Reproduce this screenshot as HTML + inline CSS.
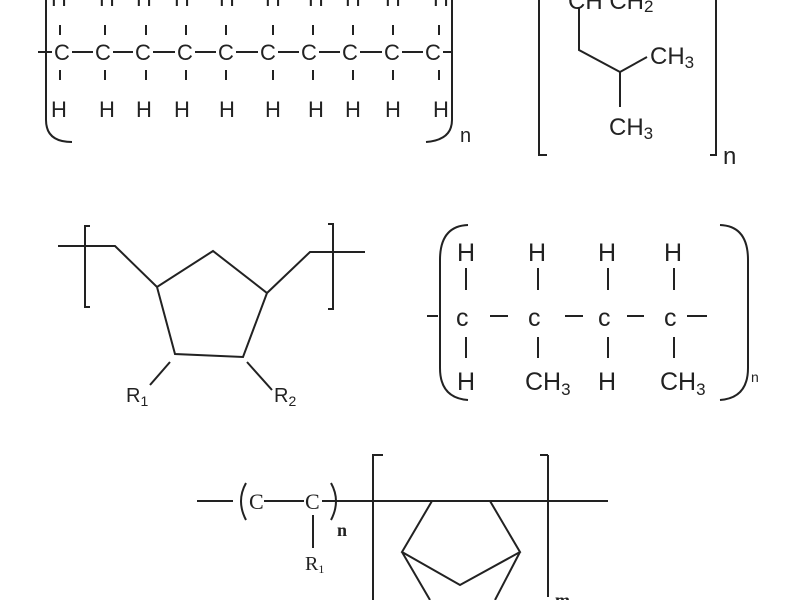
<!DOCTYPE html>
<html><head><style>body{margin:0;background:#fff}svg{display:block}text{font-family:"Liberation Sans",sans-serif;fill:#222}</style></head><body>
<svg width="800" height="600" viewBox="0 0 800 600" stroke="#222" stroke-width="2" fill="none">
<path d="M46 0 V120 Q46 142 72 142" />
<path d="M452 0 V120 Q452 140 426 142" />
<text x="460" y="142" font-size="20" stroke="none">n</text>
<line x1="38" y1="52" x2="452" y2="52"/>
<g font-size="22" text-anchor="middle">
<rect x="52" y="39" width="20" height="26" fill="#fff" stroke="none"/><text x="62" y="60" stroke="none">C</text>
<rect x="93" y="39" width="20" height="26" fill="#fff" stroke="none"/><text x="103" y="60" stroke="none">C</text>
<rect x="133" y="39" width="20" height="26" fill="#fff" stroke="none"/><text x="143" y="60" stroke="none">C</text>
<rect x="175" y="39" width="20" height="26" fill="#fff" stroke="none"/><text x="185" y="60" stroke="none">C</text>
<rect x="216" y="39" width="20" height="26" fill="#fff" stroke="none"/><text x="226" y="60" stroke="none">C</text>
<rect x="258" y="39" width="20" height="26" fill="#fff" stroke="none"/><text x="268" y="60" stroke="none">C</text>
<rect x="299" y="39" width="20" height="26" fill="#fff" stroke="none"/><text x="309" y="60" stroke="none">C</text>
<rect x="340" y="39" width="20" height="26" fill="#fff" stroke="none"/><text x="350" y="60" stroke="none">C</text>
<rect x="382" y="39" width="20" height="26" fill="#fff" stroke="none"/><text x="392" y="60" stroke="none">C</text>
<rect x="423" y="39" width="20" height="26" fill="#fff" stroke="none"/><text x="433" y="60" stroke="none">C</text>
</g>
<path d="M60 25V35M60 70V80M105 25V35M105 70V80M146 25V35M146 70V80M186 25V35M186 70V80M226 25V35M226 70V80M273 25V35M273 70V80M313 25V35M313 70V80M353 25V35M353 70V80M393 25V35M393 70V80M439 25V35M439 70V80"/>
<g font-size="22" text-anchor="middle" stroke="none">
<text x="59" y="117">H</text><text x="107" y="117">H</text><text x="144" y="117">H</text><text x="182" y="117">H</text><text x="227" y="117">H</text><text x="273" y="117">H</text><text x="316" y="117">H</text><text x="353" y="117">H</text><text x="393" y="117">H</text><text x="441" y="117">H</text>
<text x="59" y="6">H</text><text x="107" y="6">H</text><text x="144" y="6">H</text><text x="182" y="6">H</text><text x="227" y="6">H</text><text x="273" y="6">H</text><text x="316" y="6">H</text><text x="353" y="6">H</text><text x="393" y="6">H</text><text x="441" y="6">H</text>
</g>
<path d="M539 0V155H547M716 0V155H710"/>
<text x="723" y="164" font-size="24" stroke="none">n</text>
<text x="568" y="9" font-size="24" stroke="none">CH   CH<tspan font-size="17" dy="3">2</tspan></text>
<path d="M579 8V50L620 72L647 57M620 72V107"/>
<text x="650" y="64" font-size="24" stroke="none">CH<tspan font-size="17" dy="4">3</tspan></text>
<text x="609" y="135" font-size="24" stroke="none">CH<tspan font-size="17" dy="4">3</tspan></text>
<path d="M90 226H85V307H90M328 224H333V309H328"/>
<path d="M58 246H115L157 287L213 251L267 293L310 252H365M157 287L175 354L243 357L267 293M170 362L150 385M247 362L272 390"/>
<text x="126" y="402" font-size="20" stroke="none">R<tspan font-size="14" dy="4">1</tspan></text>
<text x="274" y="402" font-size="20" stroke="none">R<tspan font-size="14" dy="4">2</tspan></text>
<path d="M468 225Q440 226 440 260V368Q440 398 468 400M720 225Q748 226 748 260V368Q748 398 720 400"/>
<path d="M427 316H438M490 316H508M565 316H583M627 316H644M687 316H707M466 268V290M538 268V290M608 268V290M674 268V290M466 337V358M538 337V358M608 337V358M674 337V358"/>
<g font-size="25" stroke="none">
<text x="457" y="261">H</text><text x="528" y="261">H</text><text x="598" y="261">H</text><text x="664" y="261">H</text>
<text x="456" y="326">c</text><text x="528" y="326">c</text><text x="598" y="326">c</text><text x="664" y="326">c</text>
<text x="457" y="390">H</text><text x="525" y="390">CH<tspan font-size="17" dy="5">3</tspan></text><text x="598" y="390">H</text><text x="660" y="390">CH<tspan font-size="17" dy="5">3</tspan></text>
<text x="751" y="382" font-size="14">n</text>
</g>
<path d="M197 501H233M264 501H304M322 501H608M373 600V455H383M548 455V597M540 455H548M313 515V548"/>
<path d="M246 483Q236 501 246 520M331 483Q341 501 331 520"/>
<g stroke="none">
<text x="249" y="509" style="font-family:'Liberation Serif',serif" font-size="22">C</text>
<text x="305" y="509" style="font-family:'Liberation Serif',serif" font-size="22">C</text>
<text x="337" y="536" style="font-family:'Liberation Serif',serif" font-size="18" font-weight="bold">n</text>
<text x="305" y="570" style="font-family:'Liberation Serif',serif" font-size="20">R<tspan font-size="12" dy="3">1</tspan></text>
<text x="555" y="606" style="font-family:'Liberation Serif',serif" font-size="18" font-weight="bold">m</text>
</g>
<path d="M432 501L402 552L460 585L520 552L490 501M402 552L430 600M520 552L495 600"/>
</svg>
</body></html>
